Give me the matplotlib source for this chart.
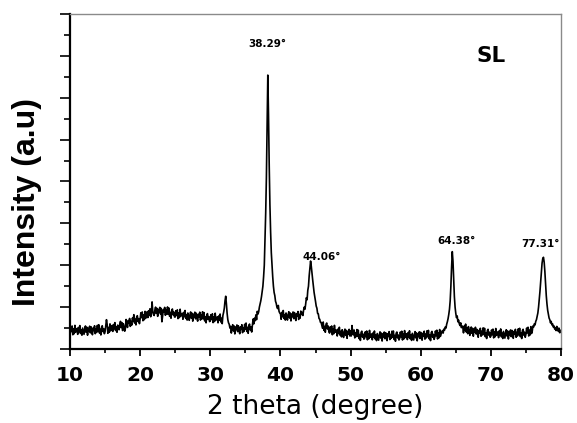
import numpy as np
import matplotlib
matplotlib.use("Agg")
import matplotlib.pyplot as plt
from matplotlib.ticker import MultipleLocator

# ---- data, 2-theta from 10 to 80 in 0.1 degree steps ----
two_theta = np.linspace(10.0, 80.0, 701)

intensity = [
    76, 106, 83, 110, 68, 96, 73, 113, 80, 91,          # 10
    98, 70, 103, 82, 112, 74, 92, 66, 100, 85,          # 11
    70, 96, 110, 80, 104, 66, 99, 86, 109, 77,          # 12
    106, 82, 68, 101, 88, 111, 73, 97, 79, 113,         # 13
    86, 116, 76, 95, 67, 105, 111, 83, 97, 73,          # 14
    83, 113, 140, 117, 75, 103, 80, 120, 87, 98,        # 15
    112, 84, 117, 96, 126, 88, 106, 80, 114, 99,        # 16
    92, 118, 132, 102, 126, 88, 121, 108, 85, 99,       # 17
    141, 117, 103, 136, 123, 146, 108, 132, 114, 148,   # 18
    134, 164, 124, 143, 115, 153, 159, 131, 145, 121,   # 19
    143, 173, 150, 177, 135, 163, 140, 180, 147, 158,   # 20
    178, 150, 183, 162, 192, 154, 172, 225, 180, 165,   # 21
    160, 186, 200, 170, 194, 156, 189, 176, 199, 167,   # 22
    194, 130, 156, 189, 176, 199, 161, 185, 167, 201,   # 23
    166, 196, 156, 175, 147, 185, 191, 163, 177, 153,   # 24
    153, 183, 160, 187, 145, 173, 150, 190, 157, 168,   # 25
    170, 142, 175, 154, 184, 146, 164, 138, 172, 157,   # 26
    137, 163, 177, 147, 171, 133, 166, 153, 176, 144,   # 27
    171, 147, 133, 166, 153, 176, 138, 162, 144, 178,   # 28
    144, 174, 134, 153, 125, 163, 169, 141, 155, 131,   # 29
    134, 164, 141, 168, 126, 154, 131, 171, 138, 149,   # 30
    153, 125, 158, 137, 167, 129, 147, 121, 160, 175,   # 31
    195, 230, 252, 215, 170, 140, 125, 118, 100, 108,   # 32
    76, 102, 116, 86, 110, 72, 105, 92, 115, 83,        # 33
    111, 87, 73, 106, 93, 116, 78, 102, 84, 118,        # 34
    94, 124, 84, 103, 75, 113, 119, 91, 105, 81,        # 35
    113, 143, 120, 147, 135, 163, 140, 180, 167, 178,   # 36
    200, 215, 230, 250, 275, 300, 345, 400, 520, 650,   # 37
    820, 1080, 1308, 1120, 880, 690, 560, 460, 400, 345,  # 38
    300, 270, 255, 228, 218, 200, 193, 208, 180, 172,   # 39
    170, 142, 175, 154, 184, 146, 164, 138, 172, 157,   # 40
    138, 164, 178, 148, 172, 134, 167, 154, 177, 145,   # 41
    174, 150, 136, 169, 156, 179, 141, 165, 147, 181,   # 42
    165, 175, 160, 185, 200, 190, 215, 245, 235, 280,   # 43
    300, 350, 385, 420, 395, 360, 330, 300, 270, 250,   # 44
    228, 205, 195, 170, 168, 146, 142, 128, 127, 112,   # 45
    99, 129, 89, 108, 80, 118, 124, 96, 110, 86,        # 46
    76, 106, 83, 110, 68, 96, 73, 113, 80, 91,          # 47
    90, 62, 95, 74, 104, 66, 84, 58, 92, 77,            # 48
    55, 81, 95, 65, 89, 51, 84, 71, 94, 62,             # 49
    86, 62, 112, 81, 68, 91, 53, 77, 59, 93,            # 50
    60, 90, 50, 69, 41, 79, 85, 57, 71, 47,             # 51
    52, 82, 59, 86, 44, 72, 49, 89, 56, 67,             # 52
    72, 44, 77, 56, 86, 48, 66, 40, 74, 59,             # 53
    42, 68, 82, 52, 76, 38, 71, 58, 81, 49,             # 54
    78, 54, 40, 73, 60, 83, 45, 69, 51, 85,             # 55
    56, 86, 46, 65, 37, 75, 81, 53, 67, 43,             # 56
    51, 81, 58, 85, 43, 71, 48, 88, 55, 66,             # 57
    73, 45, 78, 57, 87, 49, 67, 41, 75, 60,             # 58
    43, 69, 83, 53, 77, 39, 72, 59, 82, 50,             # 59
    80, 56, 42, 75, 62, 85, 47, 71, 53, 87,             # 60
    59, 89, 49, 68, 40, 78, 84, 56, 70, 46,             # 61
    56, 86, 63, 90, 48, 76, 53, 93, 60, 71,             # 62
    80, 88, 76, 95, 90, 105, 100, 118, 130, 145,        # 63
    165, 190, 230, 300, 390, 465, 420, 330, 250, 200,   # 64
    170, 150, 158, 130, 138, 120, 112, 125, 102, 110,   # 65
    105, 77, 110, 89, 119, 81, 99, 73, 107, 92,         # 66
    65, 91, 105, 75, 99, 61, 94, 81, 104, 72,           # 67
    94, 70, 56, 89, 76, 99, 61, 85, 67, 101,            # 68
    69, 99, 59, 78, 50, 88, 94, 66, 80, 56,             # 69
    61, 91, 68, 95, 53, 81, 58, 98, 65, 76,             # 70
    82, 54, 87, 66, 96, 58, 76, 50, 84, 69,             # 71
    52, 78, 92, 62, 86, 48, 81, 68, 91, 59,             # 72
    89, 65, 51, 84, 71, 94, 56, 80, 62, 96,             # 73
    69, 99, 59, 78, 50, 88, 94, 66, 80, 56,             # 74
    70, 100, 77, 104, 62, 90, 67, 107, 74, 85,          # 75
    110, 105, 120, 115, 132, 140, 155, 172, 200, 235,   # 76
    275, 320, 370, 410, 432, 438, 415, 370, 310, 255,   # 77
    215, 185, 165, 148, 140, 125, 132, 115, 120, 105,   # 78
    110, 95, 102, 88, 108, 92, 85, 100, 78, 90,         # 79
    80,                                                 # 80
]

peak_labels = ["38.29°", "44.06°", "64.38°", "77.31°"]
peak_label_x = [38.2, 45.9, 65.1, 77.0]
peak_label_y = [1456, 441, 516, 501]

sample_name = "SL"

# ---- figure ----
fig = plt.figure(figsize=(5.77, 4.23), dpi=100)
W, H = 577, 423
L, R, T, B = 70, 561, 14, 349
ax = fig.add_axes([L / W, (H - B) / H, (R - L) / W, (B - T) / H])

ax.plot(two_theta, intensity, color="black", lw=1.2)

ax.set_xlim(10, 80)
ax.set_ylim(0, 1600)

ax.xaxis.set_major_locator(MultipleLocator(10))
ax.xaxis.set_minor_locator(MultipleLocator(5))
ax.yaxis.set_major_locator(MultipleLocator(200))
ax.yaxis.set_minor_locator(MultipleLocator(100))

ax.tick_params(axis="x", which="major", direction="out", length=5, width=1.3,
               pad=7, labelsize=14.5)
ax.tick_params(axis="x", which="minor", direction="out", length=3, width=1.2)
ax.tick_params(axis="y", which="major", direction="out", length=7, width=1.2,
               labelleft=False)
ax.tick_params(axis="y", which="minor", direction="out", length=4, width=1.2)
ax.tick_params(top=False, right=False)

for lab in ax.get_xticklabels():
    lab.set_fontfamily("DejaVu Sans")
    lab.set_fontweight("bold")

for s in ("left", "bottom"):
    ax.spines[s].set_color("black")
    ax.spines[s].set_linewidth(1.6)
for s in ("top", "right"):
    ax.spines[s].set_color("#8a8a8a")
    ax.spines[s].set_linewidth(1.0)

ax.set_xlabel("2 theta (degree)", fontsize=19, family="DejaVu Sans",
              va="center")
ax.xaxis.set_label_coords(0.5, (B - 407) / (B - T))

ax.set_ylabel("Intensity (a.u)", fontsize=23, fontweight="bold",
              family="Liberation Sans", va="center", ha="center")
ax.yaxis.set_label_coords((27 - L) / (R - L), (B - 202) / (B - T))

for t, x, y in zip(peak_labels, peak_label_x, peak_label_y):
    ax.text(x, y, t, fontsize=7.5, fontweight="bold", family="DejaVu Sans",
            ha="center", va="center")

ax.text(70.0, 1400, sample_name, fontsize=15.5, fontweight="bold",
        family="DejaVu Sans", ha="center", va="center")

fig.savefig("out.png", dpi=100)
